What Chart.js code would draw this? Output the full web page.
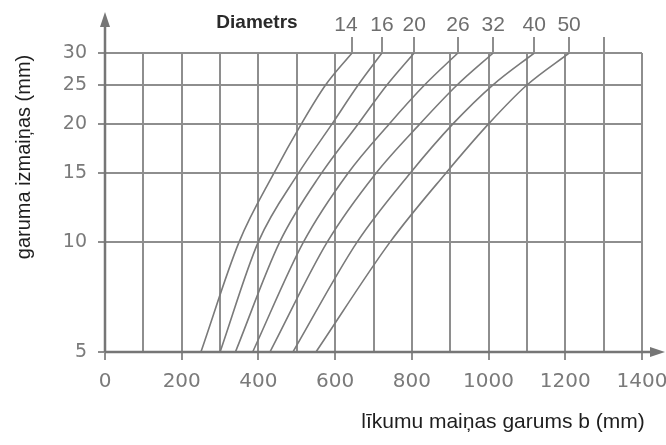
<!DOCTYPE html>
<html>
<head>
<meta charset="utf-8">
<script src="https://cdn.jsdelivr.net/npm/chart.js@4/dist/chart.umd.min.js"></script>
<style>
  html, body { margin: 0; padding: 0; background: #ffffff; }
  #wrap { width: 666px; height: 445px; position: relative; }
</style>
</head>
<body>
<div id="wrap"><canvas id="c" width="666" height="445"></canvas></div>
<script>
// ---- data ----
const yLevels   = [5, 10, 15, 20, 25, 30];          // garuma izmaiņas (mm), y tick labels
const xTicksMin = 0, xTicksMax = 1400, xStep = 100;  // līkumu maiņas garums b (mm)
const diameters = ['14', '16', '20', '26', '32', '40', '50'];
// bend length b (mm) where each diameter curve crosses the yLevels
const d14 = [250, 350, 440, 512, 575, 644];
const d16 = [300, 400, 504, 592, 660, 722];
const d20 = [340, 456, 564, 660, 735, 806];
const d26 = [385, 518, 633, 741, 833, 920];
const d32 = [430, 580, 706, 821, 918, 1012];
const d40 = [490, 658, 795, 907, 1011, 1119];
const d50 = [550, 744, 888, 1000, 1100, 1210];
const curves = [d14, d16, d20, d26, d32, d40, d50];
const extraLeaderAt = [1300];
const yTitle = 'garuma izmaiņas (mm)';
const xTitle = 'līkumu maiņas garums b (mm)';
const headTitle = 'Diametrs';

// ---- custom scale: logarithmic with offset (as on the printed nomogram) ----
class OffsetLogScale extends Chart.LinearScale {
  _t(v) { return Math.log10(v + 1); }
  getPixelForValue(value) {
    const t0 = this._t(this.min), t1 = this._t(this.max);
    return this.getPixelForDecimal((this._t(value) - t0) / (t1 - t0));
  }
  getValueForPixel(pixel) {
    const t0 = this._t(this.min), t1 = this._t(this.max);
    const d = this.getDecimalForPixel(pixel);
    return Math.pow(10, t0 + d * (t1 - t0)) - 1;
  }
}
OffsetLogScale.id = 'offsetLog';
OffsetLogScale.defaults = {};
Chart.register(OffsetLogScale);

const GRID = '#8e8e8e';
const LINE = '#7a7a7a';
const AXIS = '#767676';
const TICKTXT = '#7a7a7a';

const datasets = curves.map((arr, i) => ({
  label: diameters[i],
  data: arr.map((b, j) => ({ x: b, y: yLevels[j] })),
  borderColor: LINE,
  borderWidth: 1.6,
  pointRadius: 0,
  cubicInterpolationMode: 'monotone',
  fill: false
}));

const decor = {
  id: 'decor',
  afterDraw(chart) {
    const ctx = chart.ctx;
    const ca = chart.chartArea;
    const xs = chart.scales.x;
    ctx.save();
    // leaders + diameter labels
    ctx.strokeStyle = GRID;
    ctx.lineWidth = 2;
    ctx.fillStyle = '#6e6e6e';
    ctx.font = '21px "Liberation Sans", Arial, sans-serif';
    ctx.textAlign = 'center';
    ctx.textBaseline = 'middle';
    chart.data.datasets.forEach((ds, i) => {
      const meta = chart.getDatasetMeta(i);
      const last = meta.data[meta.data.length - 1];
      ctx.beginPath();
      ctx.moveTo(Math.round(last.x), ca.top);
      ctx.lineTo(Math.round(last.x), 37);
      ctx.stroke();
      ctx.fillText(ds.label, i === 0 ? last.x - 6 : last.x, 25);
    });
    extraLeaderAt.forEach(v => {
      const px = Math.round(xs.getPixelForValue(v));
      ctx.beginPath();
      ctx.moveTo(px, ca.top);
      ctx.lineTo(px, 37);
      ctx.stroke();
    });
    // header
    ctx.fillStyle = '#2a2a2a';
    ctx.font = 'bold 19px "Liberation Sans", Arial, sans-serif';
    ctx.fillText(headTitle, 257, 23);
    // axes with arrows
    ctx.strokeStyle = AXIS;
    ctx.fillStyle = AXIS;
    ctx.lineWidth = 2.5;
    ctx.beginPath();
    ctx.moveTo(ca.left, ca.bottom);
    ctx.lineTo(655, ca.bottom);
    ctx.moveTo(ca.left, ca.bottom);
    ctx.lineTo(ca.left, 24);
    ctx.stroke();
    ctx.beginPath();
    ctx.moveTo(665, ca.bottom);
    ctx.lineTo(650, ca.bottom - 5);
    ctx.lineTo(650, ca.bottom + 5);
    ctx.closePath();
    ctx.fill();
    ctx.beginPath();
    ctx.moveTo(ca.left, 12);
    ctx.lineTo(ca.left - 5, 27);
    ctx.lineTo(ca.left + 5, 27);
    ctx.closePath();
    ctx.fill();
    // axis titles
    ctx.fillStyle = '#1e1e1e';
    ctx.font = '21px "Liberation Sans", Arial, sans-serif';
    ctx.textAlign = 'center';
    ctx.textBaseline = 'middle';
    ctx.fillText(xTitle, 503, 422);
    ctx.font = '20px "Liberation Sans", Arial, sans-serif';
    ctx.translate(24, 157);
    ctx.rotate(-Math.PI / 2);
    ctx.fillText(yTitle, 0, 0);
    ctx.restore();
  }
};

new Chart(document.getElementById('c'), {
  type: 'line',
  data: { datasets },
  options: {
    responsive: false,
    animation: false,
    devicePixelRatio: 1,
    layout: { padding: { top: 53, right: 24, left: 0, bottom: 0 } },
    plugins: { legend: { display: false }, tooltip: { enabled: false } },
    scales: {
      x: {
        type: 'linear',
        min: xTicksMin,
        max: xTicksMax,
        afterFit(scale) { scale.height = 93; scale.paddingLeft = 0; scale.paddingRight = 0; },
        border: { display: false },
        grid: {
          color: GRID,
          lineWidth: 2,
          tickLength: 8,
          tickColor: (c) => (c.tick && c.tick.value % 200 === 0) ? GRID : 'rgba(0,0,0,0)'
        },
        ticks: {
          stepSize: xStep,
          autoSkip: false,
          maxRotation: 0,
          padding: 10,
          color: TICKTXT,
          font: { family: '"DejaVu Sans", sans-serif', size: 20 },
          callback: (v) => (v % 200 === 0 ? String(v) : '')
        }
      },
      y: {
        type: 'offsetLog',
        min: yLevels[0],
        max: yLevels[yLevels.length - 1],
        afterFit(scale) { scale.width = 105; scale.paddingTop = 0; scale.paddingBottom = 0; },
        afterBuildTicks(scale) { scale.ticks = yLevels.map(v => ({ value: v })); },
        border: { display: false },
        grid: { color: GRID, lineWidth: 2, tickLength: 7, tickColor: GRID },
        ticks: {
          padding: 11,
          color: TICKTXT,
          font: { family: '"DejaVu Sans", sans-serif', size: 19 },
          callback: (v) => String(v)
        }
      }
    }
  },
  plugins: [decor]
});
</script>
</body>
</html>
